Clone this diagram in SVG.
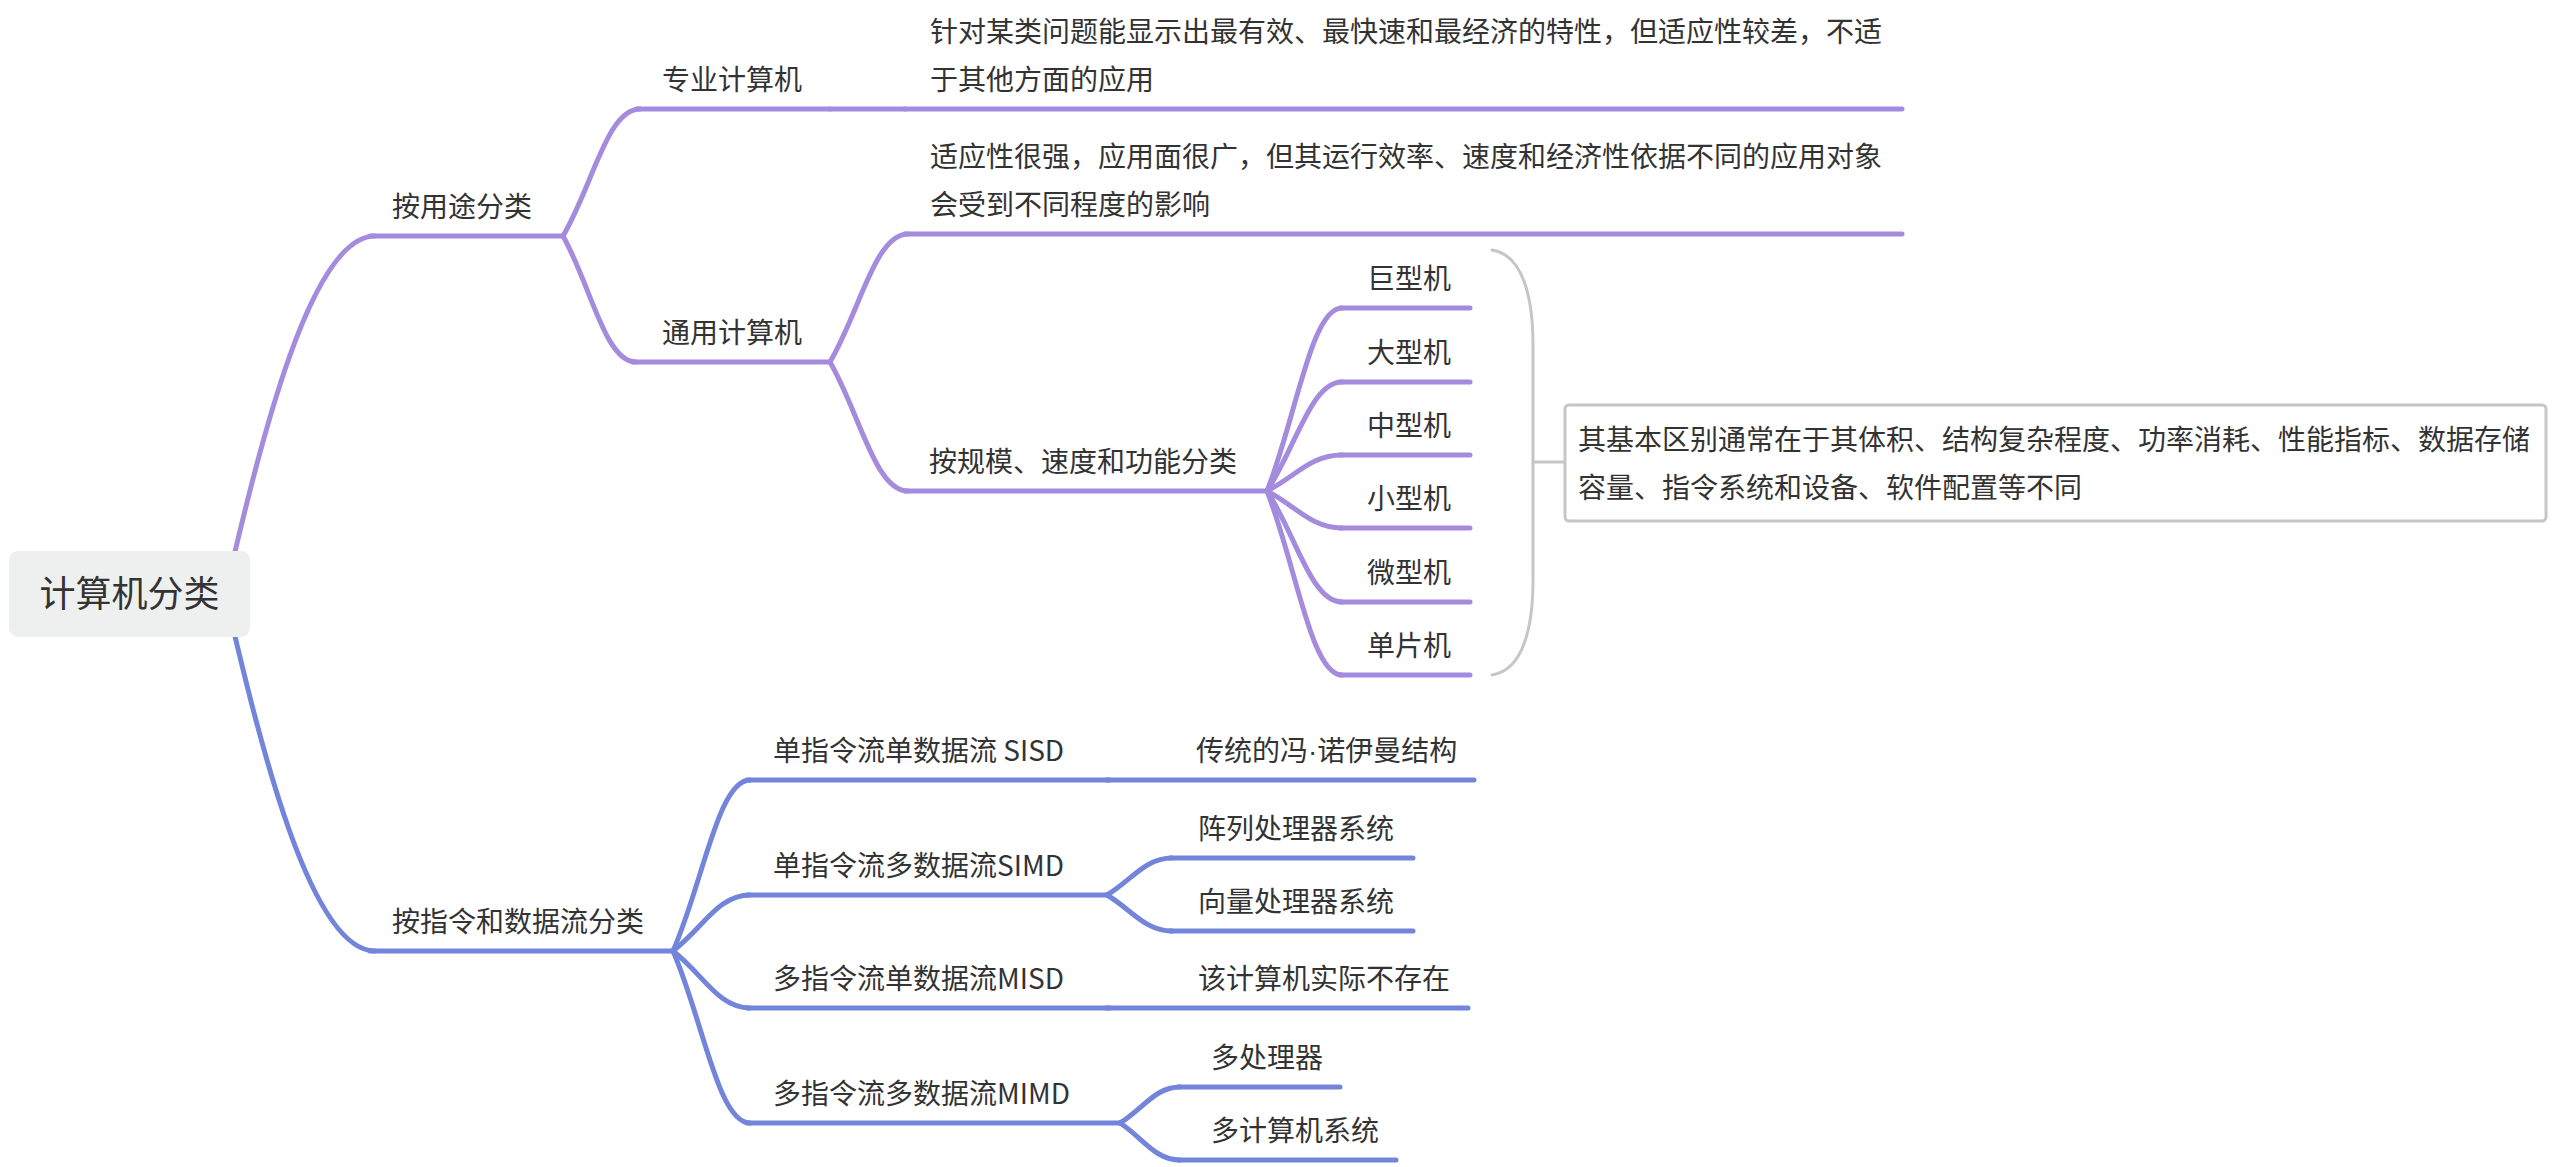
<svg xmlns="http://www.w3.org/2000/svg" width="2558" height="1167" viewBox="0 0 2558 1167">
<style>
text{font-family:"Noto Sans CJK SC","Noto Sans",sans-serif;fill:#333333;font-size:28px}
.root{font-size:36px}
.lat{font-family:"Liberation Sans",sans-serif}
.p{fill:none;stroke:#A48BDD;stroke-width:5;stroke-linecap:round}
.b{fill:none;stroke:#7385DB;stroke-width:5;stroke-linecap:round}
.g{fill:none;stroke:#C6C6C6;stroke-width:3;stroke-linecap:round}
</style>
<rect width="2558" height="1167" fill="#ffffff"/>
<g id="connectors">
<path class="p" d="M225 594 C260 444 310 236 375 236"/>
<path class="b" d="M225 594 C260 744 310 951 375 951"/>
<path class="p" d="M563 236 C593 185 607 109 640 109"/>
<path class="p" d="M563 236 C591 286 605 362 636 362"/>
<path class="p" d="M830 109 L905 109"/>
<path class="p" d="M830 362 C860 311 875 234 908 234"/>
<path class="p" d="M830 362 C860 414 875 491 908 491"/>
<path class="p" d="M1267 491 C1296 418 1311 308 1342 308"/>
<path class="p" d="M1267 491 C1296 447 1311 382 1342 382"/>
<path class="p" d="M1267 491 C1296 476 1311 455 1342 455"/>
<path class="p" d="M1267 491 C1296 506 1311 528 1342 528"/>
<path class="p" d="M1267 491 C1296 535 1311 602 1342 602"/>
<path class="p" d="M1267 491 C1296 565 1311 675 1342 675"/>
<path class="b" d="M673 951 C703 883 718 780 750 780"/>
<path class="b" d="M673 951 C703 928 718 895 750 895"/>
<path class="b" d="M673 951 C703 974 718 1008 750 1008"/>
<path class="b" d="M673 951 C703 1020 718 1123 750 1123"/>
<path class="b" d="M1107 780 L1110 780"/>
<path class="b" d="M1107 895 C1132 880 1145 858 1172 858"/>
<path class="b" d="M1107 895 C1132 910 1145 931 1172 931"/>
<path class="b" d="M1107 1008 L1110 1008"/>
<path class="b" d="M1120 1123 C1143 1109 1155 1087 1180 1087"/>
<path class="b" d="M1120 1123 C1143 1138 1155 1160 1180 1160"/>
<path class="g" d="M1492 250 C1524 255 1533 300 1533 345 L1533 580 C1533 625 1524 670 1492 675"/>
<path class="g" d="M1533 462 L1565 462"/>
</g>
<g id="root">
<rect x="9" y="551" width="241" height="86" rx="9" fill="#EEF0F0"/>
<text class="root" x="129.5" y="607" text-anchor="middle">计算机分类</text>
</g>
<g id="n-yongtu">
<path class="p" d="M370 236 L563 236"/>
<text x="392" y="217">按用途分类</text>
</g>
<g id="n-zhuanye">
<path class="p" d="M637 109 L830 109"/>
<text x="662" y="90">专业计算机</text>
</g>
<g id="n-zhuanye-desc">
<path class="p" d="M905 109 L1902 109"/>
<text x="930" y="42">针对某类问题能显示出最有效、最快速和最经济的特性，但适应性较差，不适</text>
<text x="930" y="90">于其他方面的应用</text>
</g>
<g id="n-tongyong">
<path class="p" d="M633 362 L830 362"/>
<text x="662" y="343">通用计算机</text>
</g>
<g id="n-tongyong-desc">
<path class="p" d="M905 234 L1902 234"/>
<text x="930" y="167">适应性很强，应用面很广，但其运行效率、速度和经济性依据不同的应用对象</text>
<text x="930" y="215">会受到不同程度的影响</text>
</g>
<g id="n-guimo">
<path class="p" d="M905 491 L1267 491"/>
<text x="929" y="472">按规模、速度和功能分类</text>
</g>
<g id="n-juxing">
<path class="p" d="M1340 308 L1470 308"/>
<text x="1367" y="289">巨型机</text>
</g>
<g id="n-daxing">
<path class="p" d="M1340 382 L1470 382"/>
<text x="1367" y="363">大型机</text>
</g>
<g id="n-zhongxing">
<path class="p" d="M1340 455 L1470 455"/>
<text x="1367" y="436">中型机</text>
</g>
<g id="n-xiaoxing">
<path class="p" d="M1340 528 L1470 528"/>
<text x="1367" y="509">小型机</text>
</g>
<g id="n-weixing">
<path class="p" d="M1340 602 L1470 602"/>
<text x="1367" y="583">微型机</text>
</g>
<g id="n-danpian">
<path class="p" d="M1340 675 L1470 675"/>
<text x="1367" y="656">单片机</text>
</g>
<g id="n-summary">
<rect x="1565" y="405" width="981" height="116" rx="4" fill="#ffffff" stroke="#C6C6C6" stroke-width="3"/>
<text x="1578" y="450">其基本区别通常在于其体积、结构复杂程度、功率消耗、性能指标、数据存储</text>
<text x="1578" y="498">容量、指令系统和设备、软件配置等不同</text>
</g>
<g id="n-zhiling">
<path class="b" d="M370 951 L673 951"/>
<text x="392" y="932">按指令和数据流分类</text>
</g>
<g id="n-sisd">
<path class="b" d="M747 780 L1107 780"/>
<text x="773" y="761">单指令流单数据流 SISD</text>
</g>
<g id="n-sisd-c">
<path class="b" d="M1107 780 L1474 780"/>
<text x="1196" y="761">传统的冯<tspan class="lat">·</tspan>诺伊曼结构</text>
</g>
<g id="n-simd">
<path class="b" d="M747 895 L1107 895"/>
<text x="773" y="876">单指令流多数据流SIMD</text>
</g>
<g id="n-simd-1">
<path class="b" d="M1170 858 L1413 858"/>
<text x="1198" y="839">阵列处理器系统</text>
</g>
<g id="n-simd-2">
<path class="b" d="M1170 931 L1413 931"/>
<text x="1198" y="912">向量处理器系统</text>
</g>
<g id="n-misd">
<path class="b" d="M747 1008 L1107 1008"/>
<text x="773" y="989">多指令流单数据流MISD</text>
</g>
<g id="n-misd-c">
<path class="b" d="M1107 1008 L1468 1008"/>
<text x="1198" y="989">该计算机实际不存在</text>
</g>
<g id="n-mimd">
<path class="b" d="M747 1123 L1120 1123"/>
<text x="773" y="1104">多指令流多数据流MIMD</text>
</g>
<g id="n-mimd-1">
<path class="b" d="M1178 1087 L1340 1087"/>
<text x="1211" y="1068">多处理器</text>
</g>
<g id="n-mimd-2">
<path class="b" d="M1178 1160 L1396 1160"/>
<text x="1211" y="1141">多计算机系统</text>
</g>
</svg>
